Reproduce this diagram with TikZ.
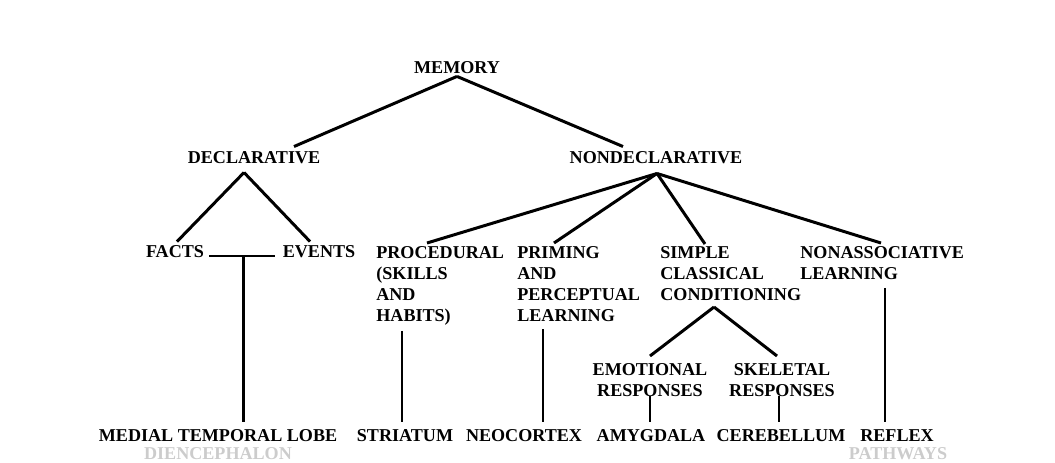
\documentclass[tikz,border=0pt]{standalone}
\usepackage{fontspec}
\setmainfont{Liberation Serif}
\usepackage{xcolor}
\usetikzlibrary{calc}
\begin{document}
\begin{tikzpicture}[x=0.02cm,y=-0.02cm,
  lbl/.style={inner sep=0pt,font=\fontsize{10.3}{12}\selectfont\bfseries},
  blk/.style={lbl,align=left,anchor=north west},
  faded/.style={lbl,text=gray!40},
  branch/.style={line width=1.7pt},
  stem/.style={line width=1.4pt}]
\useasboundingbox (0,0) rectangle (1055,463);
\node[lbl] (memory) at (457,68) {MEMORY};
\node[lbl] (decl) at (254,158) {DECLARATIVE};
\node[lbl] (nondecl) at (656,158) {NONDECLARATIVE};
\node[lbl] (facts) at (175,252) {FACTS};
\node[lbl] (events) at (319,252) {EVENTS};
\node[blk] (proc) at (376,246) {PROCEDURAL\\(SKILLS\\AND\\HABITS)};
\node[blk] (prim) at (517,246) {PRIMING\\AND\\PERCEPTUAL\\LEARNING};
\node[blk] (simple) at (660,246) {SIMPLE\\CLASSICAL\\CONDITIONING};
\node[blk] (nonassoc) at (800,246) {NONASSOCIATIVE\\LEARNING};
\node[lbl,align=center,anchor=north] (emot) at (650,363) {EMOTIONAL\\RESPONSES};
\node[lbl,align=center,anchor=north] (skel) at (782,363) {SKELETAL\\RESPONSES};
\node[lbl] (mtl) at (218,436) {MEDIAL TEMPORAL LOBE};
\node[faded] (dien) at (218,454) {DIENCEPHALON};
\node[lbl] (striatum) at (405,436) {STRIATUM};
\node[lbl] (neocortex) at (524,436) {NEOCORTEX};
\node[lbl] (amyg) at (651,436) {AMYGDALA};
\node[lbl] (cereb) at (781,436) {CEREBELLUM};
\node[lbl] (reflex) at (897,436) {REFLEX};
\node[faded] (path) at (898,454) {PATHWAYS};
\draw[branch] ($(memory.south)+(0,2)$) -- ($(decl.north)+(40,-5)$);
\draw[branch] ($(memory.south)+(0,2)$) -- ($(nondecl.north)+(-33,-5)$);
\draw[branch] ($(decl.south)+(-10,8)$) -- ($(facts.north)+(2,-4)$);
\draw[branch] ($(decl.south)+(-10,8)$) -- ($(events.north)+(-9,-4)$);
\draw[branch] ($(facts.east)+(5,4)$) -- ($(events.west)+(-7,4)$);
\draw[stem] ($(facts.east)!0.5!(events.west)+(0,4)$) coordinate (bar) -- ($(bar |- mtl.north)+(0,-8)$);
\draw[branch] ($(nondecl.south)+(1,9)$) -- ($(proc.north west)+(51,-3)$);
\draw[branch] ($(nondecl.south)+(1,9)$) -- ($(prim.north west)+(37,-3)$);
\draw[branch] ($(nondecl.south)+(1,9)$) -- ($(simple.north west)+(45,-2)$);
\draw[branch] ($(nondecl.south)+(1,9)$) -- ($(nonassoc.north west)+(81,-3)$);
\draw[stem] ($(proc.south west)+(26,5)$) coordinate (p1) -- ($(p1 |- striatum.north)+(0,-8)$);
\draw[stem] ($(prim.south west)+(26,7)$) coordinate (p2) -- ($(p2 |- neocortex.north)+(0,-8)$);
\draw[branch] ($(simple.south west)+(54,6)$) -- ($(emot.north)+(0,-7)$);
\draw[branch] ($(simple.south west)+(54,6)$) -- ($(skel.north)+(-5,-7)$);
\draw[stem] ($(emot.south)+(0,-1)$) coordinate (e1) -- ($(e1 |- amyg.north)+(0,-8)$);
\draw[stem] ($(skel.south)+(-3,-1)$) coordinate (s1) -- ($(s1 |- cereb.north)+(0,-8)$);
\draw[stem] ($(nonassoc.south west)+(85,8)$) coordinate (n1) -- ($(n1 |- reflex.north)+(0,-8)$);
\end{tikzpicture}
\end{document}
